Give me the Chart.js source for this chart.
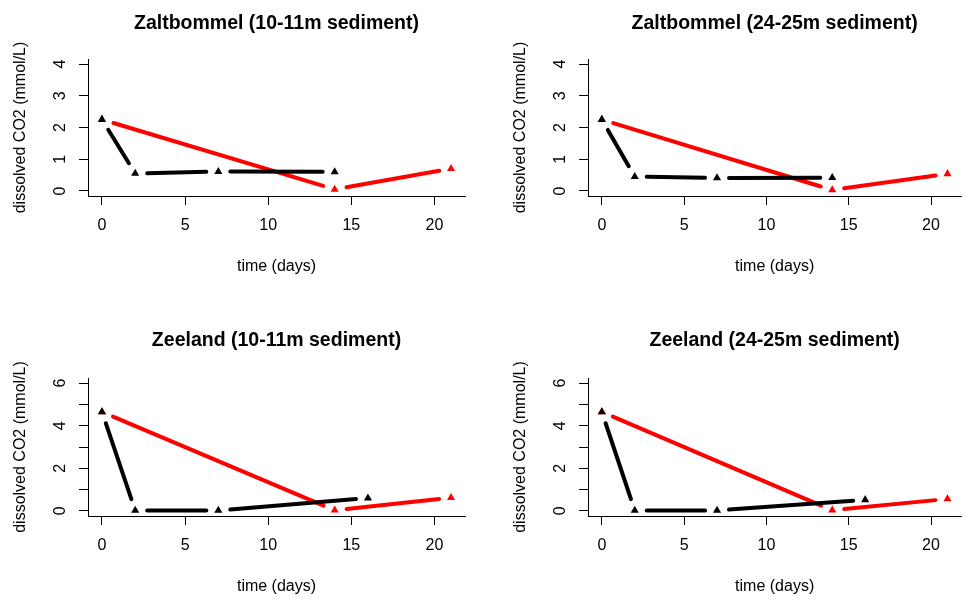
<!DOCTYPE html>
<html>
<head>
<meta charset="utf-8">
<script src="https://cdn.jsdelivr.net/npm/chart.js@4.4.1/dist/chart.umd.min.js"></script>
<style>
  body { margin: 0; background: #fff; }
  #wrap { position: relative; width: 966px; height: 603px; overflow: hidden; }
  canvas { position: absolute; }
</style>
</head>
<body>
<div id="wrap">
  <canvas id="zb10" width="483" height="284" style="left:0;top:0"></canvas>
  <canvas id="zb24" width="483" height="284" style="left:483px;top:0"></canvas>
  <canvas id="zl10" width="483" height="284" style="left:0;top:319px"></canvas>
  <canvas id="zl24" width="483" height="284" style="left:483px;top:319px"></canvas>
</div>
<script>
// sampling days
const blackDaysZaltbommel = [0, 2, 7, 14];
const blackDaysZeeland = [0, 2, 7, 16];
const redDays = [0, 14, 21];

// dissolved CO2 (mmol/L)
const zaltbommel10Black = [2.25, 0.55, 0.61, 0.6];
const zaltbommel10Red = [2.25, 0.05, 0.7];
const zaltbommel24Black = [2.25, 0.45, 0.41, 0.42];
const zaltbommel24Red = [2.25, 0.03, 0.54];
const zeeland10Black = [4.65, 0.02, 0.02, 0.6];
const zeeland10Red = [4.65, 0.03, 0.62];
const zeeland24Black = [4.65, 0.02, 0.02, 0.52];
const zeeland24Red = [4.65, 0.03, 0.56];

const xTicks = [0, 5, 10, 15, 20];
const yTicksZaltbommel = [0, 1, 2, 3, 4];
const yLabelsZaltbommel = ['0', '1', '2', '3', '4'];
const yTicksZeeland = [0, 1, 2, 3, 4, 5, 6];
const yLabelsZeeland = ['0', '', '2', '', '4', '', '6'];

Chart.defaults.font.family = '"Liberation Sans", Arial, sans-serif';
Chart.defaults.font.size = 16;
Chart.defaults.color = '#000';

// R style type="b": segments stop short of each point
const typeB = {
    id: 'typeB',
    beforeDatasetDraw(chart, args) {
        let ds = chart.data.datasets[args.index];
        let pts = args.meta.data;
        let ctx = chart.ctx;
        let gap = 12;
        ctx.save();
        ctx.strokeStyle = ds.borderColor;
        ctx.lineWidth = 4;
        ctx.lineCap = 'round';
        for (let i = 1; i < pts.length; ++i) {
            let a = pts[i - 1], b = pts[i];
            let dx = b.x - a.x, dy = b.y - a.y;
            let len = Math.sqrt(dx * dx + dy * dy);
            if (len <= 2 * gap) continue;
            let ux = dx / len, uy = dy / len;
            ctx.beginPath();
            ctx.moveTo(a.x + ux * gap, a.y + uy * gap);
            ctx.lineTo(b.x - ux * gap, b.y - uy * gap);
            ctx.stroke();
        }
        ctx.restore();
    }
};

function toPoints(days, values) {
    return days.map((d, i) => ({x: d, y: values[i]}));
}

function series(data, color) {
    return {
        data: data,
        showLine: false,
        borderColor: color,
        backgroundColor: color,
        pointStyle: 'triangle',
        pointRadius: 4.7,
        pointBorderWidth: 0
    };
}

function makePanel(id, title, black, red, yMax, yTicks, yLabels, box) {
    let pad = yMax * 0.04;
    new Chart(document.getElementById(id), {
        type: 'line',
        data: {
            datasets: [series(black, '#000000'), series(red, '#ff0000')]
        },
        plugins: [typeB],
        options: {
            responsive: false,
            animation: false,
            events: [],
            layout: {padding: {left: box.padLeft, right: box.padRight, top: 0, bottom: box.padBottom}},
            plugins: {
                legend: {display: false},
                tooltip: {enabled: false},
                title: {
                    display: true,
                    text: title,
                    fullSize: false,
                    color: '#000',
                    font: {size: 19.5, weight: 'bold'},
                    padding: {top: box.titleTop, bottom: 59 - 23.4 - box.titleTop}
                }
            },
            scales: {
                x: {
                    type: 'linear',
                    min: -0.84,
                    max: 21.84,
                    afterBuildTicks: s => { s.ticks = xTicks.map(v => ({value: v})); },
                    afterFit: s => { s.height = 80; },
                    ticks: {color: '#000', padding: 11, autoSkip: false, maxRotation: 0},
                    grid: {drawOnChartArea: false, tickLength: 9, tickColor: '#000', lineWidth: 1},
                    border: {color: '#000', width: 1},
                    title: {display: true, text: 'time (days)', color: '#000', padding: {top: 0, bottom: 0}}
                },
                y: {
                    type: 'linear',
                    min: -pad,
                    max: yMax + pad,
                    afterBuildTicks: s => { s.ticks = yTicks.map(v => ({value: v})); },
                    afterFit: s => { s.width = 88; },
                    ticks: {
                        color: '#000',
                        padding: 13.5,
                        autoSkip: false,
                        minRotation: 90,
                        maxRotation: 90,
                        crossAlign: 'center',
                        callback: (v, i) => yLabels[i]
                    },
                    grid: {drawOnChartArea: false, tickLength: 9, tickColor: '#000', lineWidth: 1},
                    border: {color: '#000', width: 1},
                    title: {display: true, text: 'dissolved CO2 (mmol/L)', color: '#000', padding: {top: 11.4, bottom: 0}}
                }
            }
        }
    });
}

window.onload = function () {
    makePanel('zb10', 'Zaltbommel (10-11m sediment)',
        toPoints(blackDaysZaltbommel, zaltbommel10Black), toPoints(redDays, zaltbommel10Red),
        4, yTicksZaltbommel, yLabelsZaltbommel, {padLeft: 0, padRight: 18, padBottom: 8, titleTop: 11.5});
    makePanel('zb24', 'Zaltbommel (24-25m sediment)',
        toPoints(blackDaysZaltbommel, zaltbommel24Black), toPoints(redDays, zaltbommel24Red),
        4, yTicksZaltbommel, yLabelsZaltbommel, {padLeft: 17, padRight: 1, padBottom: 8, titleTop: 11.5});
    makePanel('zl10', 'Zeeland (10-11m sediment)',
        toPoints(blackDaysZeeland, zeeland10Black), toPoints(redDays, zeeland10Red),
        6, yTicksZeeland, yLabelsZeeland, {padLeft: 0, padRight: 18, padBottom: 7, titleTop: 9.5});
    makePanel('zl24', 'Zeeland (24-25m sediment)',
        toPoints(blackDaysZeeland, zeeland24Black), toPoints(redDays, zeeland24Red),
        6, yTicksZeeland, yLabelsZeeland, {padLeft: 17, padRight: 1, padBottom: 7, titleTop: 9.5});
};
</script>
</body>
</html>
